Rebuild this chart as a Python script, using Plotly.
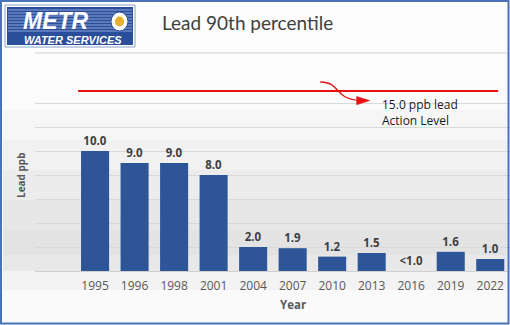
import plotly.graph_objects as go

years = ["1995", "1996", "1998", "2001", "2004", "2007", "2010", "2013", "2016", "2019", "2022"]
values = [10.0, 9.0, 9.0, 8.0, 2.0, 1.9, 1.2, 1.5, 0.0, 1.6, 1.0]
labels = ["10.0", "9.0", "9.0", "8.0", "2.0", "1.9", "1.2", "1.5", "<1.0", "1.6", "1.0"]
action_level = 15.0
action_text = "15.0 ppb lead<br>Action Level"
title_text = "Lead 90th percentile"

W, H = 510, 325
ML, MR, MT, MB = 35, 0, 79, 54
PW, PH = W - ML - MR, H - MT - MB


def px(x):
    return (x - ML) / PW


def py(y):
    return 1 - (y - MT) / PH


idx = list(range(len(years)))
fig = go.Figure()
fig.add_trace(go.Bar(
    x=idx, y=values, width=0.71,
    marker=dict(color="#2E5597", line=dict(width=0)),
    text=labels, textposition="outside", cliponaxis=False,
    textfont=dict(family="Open Sans", size=11.5, color="#404040", weight="bold"),
    hoverinfo="skip",
))

shapes = []
# background gradient of plot area
grad = [(79, 110, "#fbfbfb"), (110, 140, "#f6f6f6"), (140, 170, "#f1f1f1"),
        (170, 200, "#ececec"), (200, 230, "#e7e7e7"), (230, 255, "#e3e3e3"),
        (255, 271, "#e8e8e8"), (271, 290, "#f3f3f3"), (290, 323, "#fafafa")]
for y0, y1, c in grad:
    shapes.append(dict(type="rect", xref="paper", yref="paper", x0=px(3), x1=px(507),
                       y0=py(y1), y1=py(y0), fillcolor=c, line=dict(width=0), layer="below"))
# header divider
shapes.append(dict(type="line", xref="paper", yref="paper", x0=px(35), x1=px(507),
                   y0=py(53), y1=py(53), line=dict(color="#d0d0d0", width=1)))
# action level line
shapes.append(dict(type="line", xref="x", yref="y", x0=-0.43, x1=10.2,
                   y0=action_level, y1=action_level, line=dict(color="#E81010", width=2)))
# curved arrow
shapes.append(dict(type="path", xref="x", yref="y",
                   path="M 5.7,15.75 C 6.25,15.7 6.0,14.4 6.7,14.2",
                   line=dict(color="#E81010", width=1.3)))
shapes.append(dict(type="path", xref="x", yref="y",
                   path="M 6.62,14.55 L 6.95,14.2 L 6.62,13.85 Z",
                   fillcolor="#E81010", line=dict(color="#E81010", width=0.5)))
# logo
shapes.append(dict(type="rect", xref="paper", yref="paper", x0=px(5), x1=px(135),
                   y0=py(47), y1=py(5), fillcolor="#ffffff", line=dict(color="#8aa0c8", width=1)))
shapes.append(dict(type="rect", xref="paper", yref="paper", x0=px(7), x1=px(133),
                   y0=py(45), y1=py(7), fillcolor="#2B4E9B", line=dict(width=0)))
for yy in [10, 13, 16, 19, 22, 25, 28, 31]:
    shapes.append(dict(type="line", xref="paper", yref="paper", x0=px(8), x1=px(132),
                       y0=py(yy), y1=py(yy), line=dict(color="#8fa6d6", width=1)))
shapes.append(dict(type="circle", xref="paper", yref="paper", x0=px(111), x1=px(128),
                   y0=py(31), y1=py(12), fillcolor="#ffffff", line=dict(color="#2B4E9B", width=1)))
shapes.append(dict(type="circle", xref="paper", yref="paper", x0=px(115), x1=px(124),
                   y0=py(26.5), y1=py(16.5), fillcolor="#E8B030", line=dict(width=0)))
# outer border
shapes.append(dict(type="rect", xref="paper", yref="paper", x0=px(1), x1=px(508.5),
                   y0=py(323.5), y1=py(1), line=dict(color="#4A72B8", width=2)))

annotations = [
    dict(text=title_text, xref="paper", yref="paper", x=px(160), y=py(22),
         xanchor="left", yanchor="middle", showarrow=False,
         font=dict(family="Lato", size=19, color="#404040")),
    dict(text="<i><b>METR</b></i>", xref="paper", yref="paper", x=px(21), y=py(21),
         xanchor="left", yanchor="middle", showarrow=False,
         font=dict(family="Liberation Sans", size=23, color="#ffffff")),
    dict(text="<i><b>WATER SERVICES</b></i>", xref="paper", yref="paper", x=px(73), y=py(40),
         xanchor="center", yanchor="middle", showarrow=False,
         font=dict(family="Liberation Sans", size=11, color="#ffffff")),
    dict(text=action_text, xref="x", yref="y", x=7.2, y=14.75, xanchor="left", yanchor="top",
         align="left", showarrow=False,
         font=dict(family="Open Sans", size=12, color="#1a1a1a")),
    dict(text="<b>Lead ppb</b>", xref="paper", yref="paper", x=px(21), y=py(175),
         textangle=-90, xanchor="center", yanchor="middle", showarrow=False,
         font=dict(family="Open Sans", size=10, color="#595959")),
    dict(text="<b>Year</b>", xref="x", yref="paper", x=5, y=py(304),
         xanchor="center", yanchor="middle", showarrow=False,
         font=dict(family="Open Sans", size=11.5, color="#595959")),
]

fig.update_layout(
    width=W, height=H,
    margin=dict(l=ML, r=MR, t=MT, b=MB),
    paper_bgcolor="#fdfdfd", plot_bgcolor="rgba(0,0,0,0)",
    showlegend=False,
    shapes=shapes, annotations=annotations,
    xaxis=dict(range=[-1.52, 10.5], tickmode="array", tickvals=idx, ticktext=years,
               showgrid=False, zeroline=False, showline=False,
               ticks="outside", ticklen=4, tickcolor="rgba(0,0,0,0)",
               tickfont=dict(family="Open Sans", size=12, color="#595959"), fixedrange=True),
    yaxis=dict(range=[0, 16], dtick=2, showgrid=True, gridcolor="#d9d9d9", gridwidth=1,
               showticklabels=False, zeroline=True, zerolinecolor="#d0d0d0", zerolinewidth=1,
               ticks="", fixedrange=True),
    bargap=0.29,
)

fig.write_html("out.html")
